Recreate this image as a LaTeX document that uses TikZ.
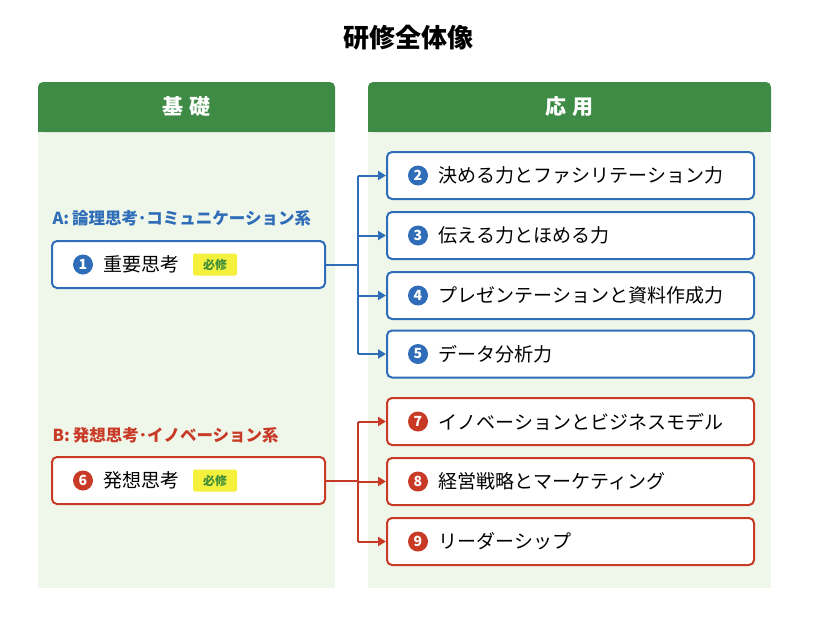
\documentclass[tikz,border=0pt]{standalone}
\usepackage{fontspec}
\setmainfont{Noto Sans CJK JP}
\usetikzlibrary{arrows.meta}
\definecolor{hdgreen}{HTML}{3D8B45}
\definecolor{bggreen}{HTML}{EFF7EB}
\definecolor{lblue}{HTML}{2F6DB8}
\definecolor{lred}{HTML}{C83A26}
\definecolor{tagyellow}{HTML}{F4F03C}
\definecolor{tagtext}{HTML}{3F8E3A}
\tikzset{
  panel/.style={fill=bggreen, draw=none},
  header/.style={fill=hdgreen, draw=none, rounded corners=5pt},
  course/.style={draw=#1, line width=2pt, fill=white, rounded corners=5pt,
    minimum height=47pt, anchor=west, inner sep=0pt},
  num/.style={circle, fill=#1, text=white, inner sep=0pt, minimum size=20pt,
    font=\fontsize{14}{14}\selectfont\bfseries},
  ctext/.style={anchor=west, font=\fontsize{19}{22}\selectfont},
  tag/.style={fill=tagyellow, text=tagtext, rounded corners=2pt, minimum width=44pt,
    minimum height=22pt, inner sep=0pt, font=\fontsize{12}{12}\selectfont\bfseries},
  group/.style={anchor=west, text=#1, font=\fontsize{16.5}{18}\selectfont\bfseries},
  link/.style={draw=#1, line width=2pt},
  arr/.style={link=#1, -{Triangle[length=8pt,width=9pt]}},
}
\newcommand{\coursebox}[7]{% name, color, x, y, width, number, text
  \node[course=#2, minimum width=#5pt] (#1) at (#3,#4) {};
  \node[num=#2] (#1-n) at ([xshift=32pt]#1.west) {#6};
  \node[ctext] (#1-t) at ([xshift=7pt]#1-n.east) {#7};
}
\begin{document}
\begin{tikzpicture}[x=1pt, y=-1pt]
\useasboundingbox (0,0) rectangle (817,619);

\node[font=\fontsize{26}{30}\selectfont\bfseries] (title) at (408,38) {研修全体像};

% panels
\fill[panel] (38,110) rectangle (335,588);
\fill[panel] (368,110) rectangle (771,588);
\fill[header] (38,82) rectangle (335,132);
\fill[header] (368,82) rectangle (771,132);
\fill[hdgreen] (38,110) rectangle (335,132);
\fill[hdgreen] (368,110) rectangle (771,132);
\node[text=white, font=\fontsize{21}{24}\selectfont\bfseries] (base) at (186.5,107) {基\hspace{6pt}礎};
\node[text=white, font=\fontsize{21}{24}\selectfont\bfseries] (apply) at (569.5,107) {応\hspace{6pt}用};

% left side
\node[group=lblue] (grpA) at (49,218) {A:\hspace{3pt}論理思考･コミュニケーション系};
\coursebox{c1}{lblue}{51}{264.5}{273}{1}{重要思考}
\node[tag] (tag1) at (215,264.5) {必修};

\node[group=lred] (grpB) at (49,435) {B:\hspace{3pt}発想思考･イノベーション系};
\coursebox{c6}{lred}{51}{480.5}{273}{6}{発想思考}
\node[tag] (tag6) at (215,480.5) {必修};

% right side
\foreach \nm/\col/\y/\k/\txt in {
  c2/lblue/175.5/2/決める力とファシリテーション力,
  c3/lblue/235.5/3/伝える力とほめる力,
  c4/lblue/295.5/4/プレゼンテーションと資料作成力,
  c5/lblue/354/5/データ分析力,
  c7/lred/421.5/7/イノベーションとビジネスモデル,
  c8/lred/481.5/8/経営戦略とマーケティング,
  c9/lred/541.5/9/リーダーシップ}
{
  \coursebox{\nm}{\col}{386}{\y}{367}{\k}{\txt}
}

% connectors
\coordinate (jA) at (358,264.5);
\coordinate (jB) at (358,480.5);
\draw[link=lblue] (c1.east) -- (jA);
\draw[link=lblue] (c2.west -| jA) -- (c5.west -| jA);
\foreach \t in {c2,c3,c4,c5}
  \draw[arr=lblue] (\t.west -| jA) -- (\t.west);
\draw[link=lred] (c6.east) -- (jB);
\draw[link=lred] (c7.west -| jB) -- (c9.west -| jB);
\foreach \t in {c7,c8,c9}
  \draw[arr=lred] (\t.west -| jB) -- (\t.west);
\end{tikzpicture}
\end{document}
